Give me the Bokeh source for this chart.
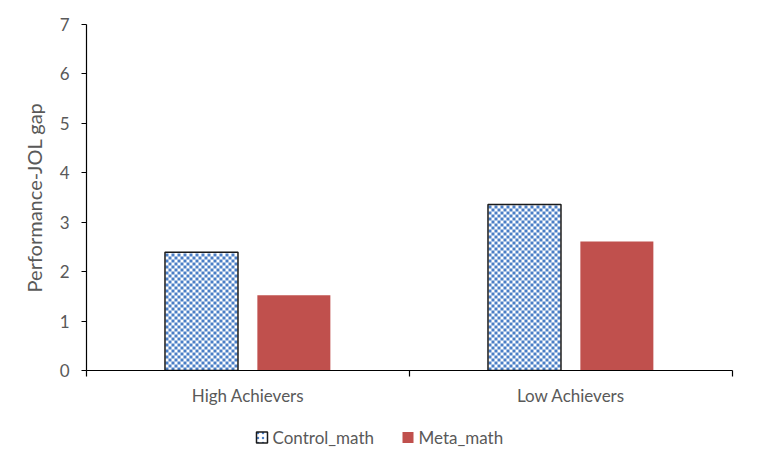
from bokeh.plotting import figure
from bokeh.models import ColumnDataSource, FixedTicker, Range1d, LinearAxis
from bokeh.layouts import column
from bokeh.core.properties import value
from bokeh.embed import file_html
from bokeh.resources import INLINE

# ---- data ----
groups = ["High Achievers", "Low Achievers"]
series = ["Control_math", "Meta_math"]
control_math = [2.39, 3.36]
meta_math = [1.52, 2.61]
y_ticks = [0, 1, 2, 3, 4, 5, 6, 7]

FONT = "Lato"
GRAY = "#595959"
BLUE = "#4A7EC6"
RED = "#C0504D"

FW, FH = 646, 346
ML, MR, MT, MB = 86, 17, 24, 45
Y_MAX = 7
BAR_W = 0.226

x_ctrl = [i + 0.5 - 0.144 for i in range(len(groups))]
x_meta = [i + 0.5 + 0.142 for i in range(len(groups))]
src_c = ColumnDataSource(dict(x=x_ctrl, top=control_math))
src_m = ColumnDataSource(dict(x=x_meta, top=meta_math))

# checkerboard fill cells (3px squares) inside the control bars
cell_px = 3.0
dx = cell_px / (FW / 2.0)
dy = cell_px / (FH / Y_MAX)
cx, cy = [], []
for xc, t in zip(x_ctrl, control_math):
    left = xc - BAR_W / 2
    ncol = int(BAR_W / dx)
    nrow = int(t / dy)
    off = (BAR_W - ncol * dx) / 2
    for r in range(nrow):
        for c in range(ncol):
            if (r + c) % 2 == 0:
                cx.append(left + off + (c + 0.5) * dx)
                cy.append((r + 0.5) * dy)
src_cells = ColumnDataSource(dict(x=cx, y=cy))

p = figure(frame_width=FW, frame_height=FH, output_backend="svg",
           toolbar_location=None, x_range=Range1d(0, 2), y_range=Range1d(0, Y_MAX),
           min_border_left=ML, min_border_right=MR, min_border_top=MT,
           min_border_bottom=MB, x_axis_location=None, y_axis_location=None)
p.background_fill_color = "white"
p.border_fill_color = "white"
p.outline_line_color = None
p.xgrid.visible = False
p.ygrid.visible = False

p.vbar(x="x", top="top", bottom=0, width=BAR_W, source=src_c,
       fill_color="white", line_color=None)
p.rect(x="x", y="y", width=dx, height=dy, source=src_cells,
       fill_color=BLUE, line_color=None)
p.vbar(x="x", top="top", bottom=0, width=BAR_W, source=src_c,
       fill_color=None, line_color="#1a1a1a", line_width=1.5)
p.vbar(x="x", top="top", bottom=0, width=BAR_W, source=src_m,
       fill_color=RED, line_color=None)

# y axis
ya = LinearAxis(ticker=FixedTicker(ticks=y_ticks, minor_ticks=[]))
ya.axis_label = "Performance-JOL gap"
ya.axis_label_text_font = FONT
ya.axis_label_text_font_size = "20px"
ya.axis_label_text_font_style = "normal"
ya.axis_label_text_color = GRAY
ya.axis_label_standoff = 11
ya.major_label_text_font = FONT
ya.major_label_text_font_size = "17px"
ya.major_label_text_color = GRAY
ya.major_label_standoff = 12
ya.major_tick_in = 0
ya.major_tick_out = 5
ya.major_tick_line_color = "#000000"
ya.axis_line_color = "#000000"
ya.axis_line_width = 1.2
p.add_layout(ya, "left")

# x axis: labels at centers, ticks at boundaries
xa = LinearAxis(ticker=FixedTicker(ticks=[0.5, 1.5], minor_ticks=[0, 1, 2]))
xa.major_label_overrides = {0.5: groups[0], 1.5: groups[1]}
xa.major_label_text_font = FONT
xa.major_label_text_font_size = "17px"
xa.major_label_text_color = GRAY
xa.major_label_standoff = 8
xa.major_tick_line_color = None
xa.minor_tick_in = 0
xa.minor_tick_out = 6
xa.minor_tick_line_color = "#000000"
xa.minor_tick_line_width = 1.2
xa.axis_line_color = "#000000"
xa.axis_line_width = 1.2
p.add_layout(xa, "below")

# ---- legend strip (separate small figure below, frame aligned with main) ----
LH = 40
lg = figure(frame_width=FW, frame_height=LH, output_backend="svg",
            toolbar_location=None, x_range=Range1d(0, FW), y_range=Range1d(0, LH),
            min_border_left=ML, min_border_right=MR, min_border_top=0,
            min_border_bottom=0, x_axis_location=None, y_axis_location=None)
lg.background_fill_color = "white"
lg.border_fill_color = "white"
lg.outline_line_color = None
lg.xgrid.visible = False
lg.ygrid.visible = False

glyph_x = [175.5, 321.5]
text_x = [186, 332]
leg_y = 18
lg.rect(x=[glyph_x[0]], y=[leg_y], width=11, height=11,
        width_units="screen", height_units="screen",
        fill_color="white", hatch_pattern="dot", hatch_color=BLUE,
        hatch_scale=5, line_color="#1a1a1a", line_width=1.5)
lg.rect(x=[glyph_x[1]], y=[leg_y], width=11, height=11,
        width_units="screen", height_units="screen",
        fill_color=RED, line_color=None)
lg.text(x=text_x, y=[leg_y, leg_y], text=series,
        text_font=value(FONT), text_font_size="17px", text_color=GRAY,
        text_baseline="middle", text_align="left")

layout = column(p, lg, spacing=0)
open("out.html", "w").write(file_html(layout, INLINE))
